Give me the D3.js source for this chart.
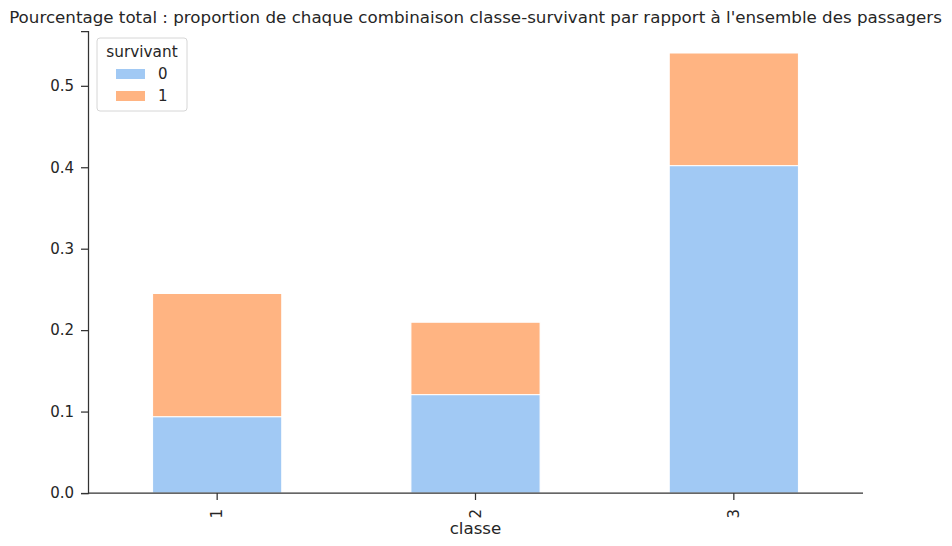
<!DOCTYPE html>
<html>
<head>
<meta charset="utf-8">
<script src="https://cdn.jsdelivr.net/npm/d3@7"></script>
<style>
  body { margin: 0; background: #fff; }
  text { font-family: "DejaVu Sans", sans-serif; fill: #262626; }
</style>
</head>
<body>
<div id="chart"></div>
<script>
// Données
const classes = ["1", "2", "3"];
const survivants = ["0", "1"];
const morts = [0.0937, 0.1208, 0.4020];      // survivant = 0
const vivants = [0.1513, 0.0889, 0.1383];    // survivant = 1
const yTicks = [0.0, 0.1, 0.2, 0.3, 0.4, 0.5];
const couleurs = ["#a1c9f4", "#ffb482"];

const width = 952;
const height = 546;
const marginTop = 31;
const marginRight = 89;
const marginBottom = 53;
const marginLeft = 88;

const table = classes.map((c, i) => ({ classe: c, "0": morts[i], "1": vivants[i] }));
const series = d3.stack().keys(survivants)(table);

const svg = d3.create("svg")
  .attr("width", width)
  .attr("height", height)
  .attr("viewBox", [0, 0, width, height]);

d3.select("#chart").append(() => svg.node());

const x = d3.scaleBand()
  .domain(classes)
  .range([marginLeft, width - marginRight])
  .paddingInner(0.5)
  .paddingOuter(0.25);

const yMax = d3.max(series[series.length - 1], d => d[1]) * 1.05;
const y = d3.scaleLinear()
  .domain([0, yMax])
  .range([height - marginBottom, marginTop]);

// Barres empilées
svg.append("g")
  .selectAll("g")
  .data(series)
  .join("g")
    .attr("fill", (d, i) => couleurs[i])
  .selectAll("rect")
  .data(d => d)
  .join("rect")
    .attr("x", d => x(d.data.classe))
    .attr("y", d => y(d[1]))
    .attr("width", x.bandwidth())
    .attr("height", d => y(d[0]) - y(d[1]))
    .attr("stroke", "#fff")
    .attr("stroke-width", 1);

// Axe X
const gx = svg.append("g")
  .attr("transform", `translate(0,${height - marginBottom})`)
  .call(d3.axisBottom(x).tickSizeOuter(0).tickSize(7).tickPadding(8));
gx.select(".domain").attr("stroke", "#333").attr("stroke-width", 1.25)
  .attr("d", `M${marginLeft},0H${width - marginRight}`);
gx.selectAll(".tick line").attr("stroke", "#333").attr("stroke-width", 1.25);
gx.selectAll(".tick text")
  .attr("font-size", 15)
  .attr("transform", "rotate(-90)")
  .attr("x", -16)
  .attr("y", 0)
  .attr("dy", "0.35em")
  .style("text-anchor", "end");
gx.append("text")
  .attr("x", (marginLeft + width - marginRight) / 2)
  .attr("y", 41)
  .attr("font-size", 16.7)
  .attr("text-anchor", "middle")
  .attr("fill", "#262626")
  .text("classe");

// Axe Y
const gy = svg.append("g")
  .attr("transform", `translate(${marginLeft},0)`)
  .call(d3.axisLeft(y).tickValues(yTicks).tickFormat(d3.format(".1f")).tickSizeOuter(0).tickSize(7).tickPadding(7));
gy.select(".domain").attr("stroke", "#333").attr("stroke-width", 1.25);
gy.selectAll(".tick line").attr("stroke", "#333").attr("stroke-width", 1.25);
gy.selectAll(".tick text").attr("font-size", 15);
gy.attr("font-family", null);
gx.attr("font-family", null);

// Titre
svg.append("text")
  .attr("x", (marginLeft + width - marginRight) / 2)
  .attr("y", 23)
  .attr("font-size", 16.7)
  .attr("text-anchor", "middle")
  .text("Pourcentage total : proportion de chaque combinaison classe-survivant par rapport à l'ensemble des passagers");

// Légende
const legend = svg.append("g").attr("transform", `translate(${marginLeft + 9},${marginTop + 7})`);
legend.append("rect")
  .attr("width", 90)
  .attr("height", 73)
  .attr("rx", 3)
  .attr("fill", "#fff")
  .attr("fill-opacity", 0.8)
  .attr("stroke", "#d6d6d6");
legend.append("text")
  .attr("x", 45)
  .attr("y", 19)
  .attr("font-size", 15.3)
  .attr("text-anchor", "middle")
  .text("survivant");
survivants.forEach((s, i) => {
  const row = legend.append("g").attr("transform", `translate(19,${36 + i * 22})`);
  row.append("rect").attr("width", 29).attr("height", 10).attr("y", -5).attr("fill", couleurs[i]);
  row.append("text").attr("x", 42).attr("dy", "0.35em").attr("font-size", 15).text(s);
});
</script>
</body>
</html>
